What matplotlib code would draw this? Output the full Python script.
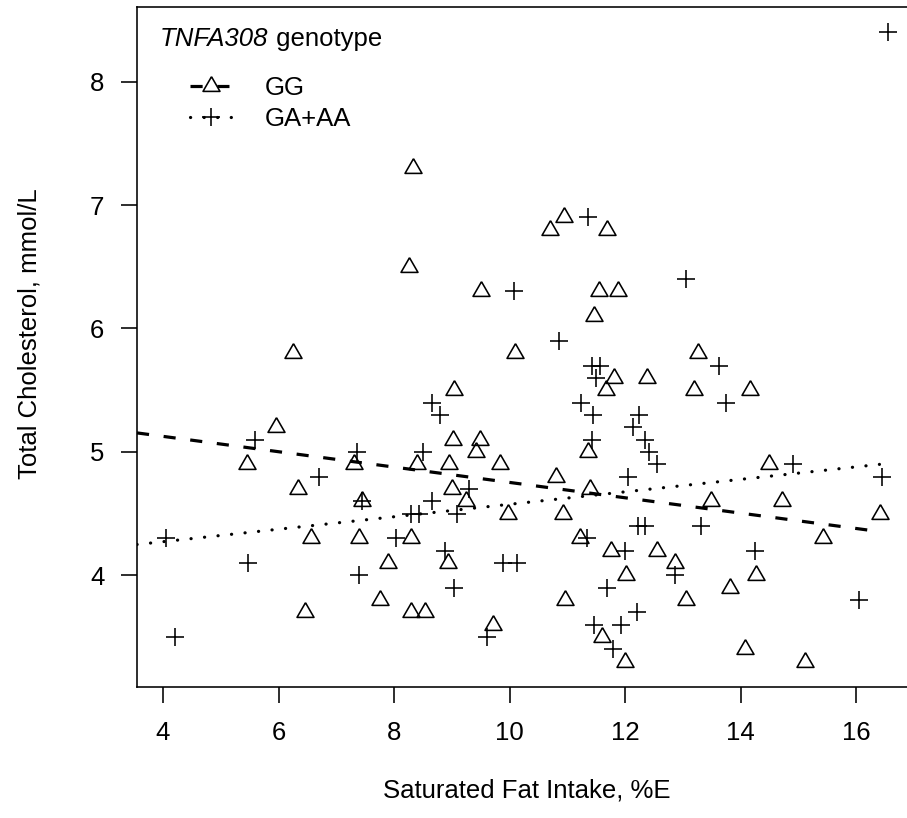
import matplotlib
matplotlib.use("Agg")
import matplotlib.pyplot as plt
from matplotlib.lines import Line2D
import numpy as np

plt.rcParams['font.family'] = ['Liberation Sans', 'DejaVu Sans']

# GG genotype (triangles)
gg_x = [5.45, 5.95, 6.25, 6.33, 6.45, 6.57, 7.30, 7.40, 7.45, 7.76, 7.90, 8.25, 8.30, 8.30,
        8.32, 8.40, 8.53, 8.93, 8.95, 9.01, 9.02, 9.03, 9.24, 9.41, 9.49, 9.50, 9.72, 9.83,
        9.97, 10.09, 10.69, 10.81, 10.93, 10.94, 10.95, 11.21, 11.36, 11.39, 11.46, 11.54,
        11.59, 11.66, 11.69, 11.76, 11.80, 11.87, 11.99, 12.01, 12.38, 12.55, 12.86, 13.05,
        13.19, 13.26, 13.48, 13.81, 14.07, 14.16, 14.26, 14.48, 14.72, 15.12, 15.43, 16.41]
gg_y = [4.9, 5.2, 5.8, 4.7, 3.7, 4.3, 4.9, 4.3, 4.6, 3.8, 4.1, 6.5, 4.3, 3.7,
        7.3, 4.9, 3.7, 4.1, 4.9, 4.7, 5.1, 5.5, 4.6, 5.0, 5.1, 6.3, 3.6, 4.9,
        4.5, 5.8, 6.8, 4.8, 4.5, 6.9, 3.8, 4.3, 5.0, 4.7, 6.1, 6.3,
        3.5, 5.5, 6.8, 4.2, 5.6, 6.3, 3.3, 4.0, 5.6, 4.2, 4.1, 3.8,
        5.5, 5.8, 4.6, 3.9, 3.4, 5.5, 4.0, 4.9, 4.6, 3.3, 4.3, 4.5]

# GA+AA genotype (plus)
ga_x = [4.05, 4.20, 5.47, 5.60, 6.70, 7.35, 7.39, 7.45, 8.03, 8.30, 8.43, 8.50, 8.65, 8.66,
        8.79, 8.88, 9.03, 9.08, 9.30, 9.61, 9.88, 10.07, 10.13, 10.86, 11.23, 11.33, 11.36,
        11.42, 11.42, 11.45, 11.46, 11.49, 11.56, 11.69, 11.79, 11.92, 12.00, 12.04, 12.14,
        12.21, 12.22, 12.23, 12.34, 12.34, 12.42, 12.55, 12.86, 13.05, 13.32, 13.62, 13.74,
        14.24, 14.90, 16.05, 16.44, 16.55]
ga_y = [4.3, 3.5, 4.1, 5.1, 4.8, 5.0, 4.0, 4.6, 4.3, 4.5, 4.5, 5.0, 4.6, 5.4,
        5.3, 4.2, 3.9, 4.5, 4.7, 3.5, 4.1, 6.3, 4.1, 5.9, 5.4, 4.3, 6.9,
        5.7, 5.1, 5.3, 3.6, 5.6, 5.7, 3.9, 3.4, 3.6, 4.2, 4.8, 5.2,
        3.7, 4.4, 5.3, 4.4, 5.1, 5.0, 4.9, 4.0, 6.4, 4.4, 5.7, 5.4,
        4.2, 4.9, 3.8, 4.8, 8.4]

# fitted regression lines (intercept, slope) and drawn x-extent
gg_fit = (5.375, -0.0622)
ga_fit = (4.071, 0.0505)
fit_x_end = 16.4

xticks = [4, 6, 8, 10, 12, 14, 16]
yticks = [4, 5, 6, 7, 8]

W, H = 907, 818
fig = plt.figure(figsize=(W / 100, H / 100), dpi=100)
ax = fig.add_axes([137 / W, 1 - 687 / H, (917 - 137) / W, (687 - 7) / H])

xall = np.array(gg_x + ga_x)
yall = np.array(gg_y + ga_y)
xr = xall.max() - xall.min()
yr = yall.max() - yall.min()
xlim = (xall.min() - 0.04 * xr, xall.max() + 0.04 * xr)
ylim = (yall.min() - 0.04 * yr, yall.max() + 0.04 * yr)

lw_px = 1.6
lw = lw_px * 0.72
fs = 18.5

tri = [(0, 1.555), (-1.347, -0.778), (1.347, -0.778), (0, 1.555)]
ax.plot(gg_x, gg_y, linestyle='none', marker=tri, markersize=14.1,
        markerfacecolor='none', markeredgecolor='black', markeredgewidth=lw)
ax.plot(ga_x, ga_y, linestyle='none', marker='+', markersize=12.8,
        markeredgecolor='black', markeredgewidth=lw)

lx = np.array([xlim[0], fit_x_end])
ax.plot(lx, gg_fit[0] + gg_fit[1] * lx, color='black', linewidth=2.3,
        dashes=(3.8, 4.6), dash_capstyle='butt')
ax.plot(lx, ga_fit[0] + ga_fit[1] * lx, color='black', linewidth=2.3,
        dashes=(0.05, 4.2), dash_capstyle='round')

ax.set_xlim(xlim)
ax.set_ylim(ylim)
ax.set_xticks(xticks)
ax.set_yticks(yticks)
ax.set_xticklabels([str(t) for t in xticks])
ax.set_yticklabels([str(t) for t in yticks])
ax.tick_params(axis='both', length=11.5, width=lw, labelsize=fs, direction='out')
ax.tick_params(axis='x', pad=13)
ax.tick_params(axis='y', pad=12)
for s in ax.spines.values():
    s.set_linewidth(lw)

ax.set_xlabel('Saturated Fat Intake, %E', fontsize=fs, labelpad=24)
ax.set_ylabel('Total Cholesterol, mmol/L', fontsize=fs, labelpad=35)
ax.yaxis.label.set_y(0.52)

t1 = ax.text(0.0295, 0.943, 'TNFA308', transform=ax.transAxes,
             fontsize=fs, style='italic', ha='left', va='baseline')
ax.annotate(' genotype', xy=(1, 0), xycoords=t1, fontsize=fs,
            ha='left', va='bottom')

h1 = Line2D([], [], color='black', linewidth=2.3, dashes=(3.8, 4.6),
            marker=tri, markersize=14.1, markerfacecolor='white',
            markeredgecolor='black', markeredgewidth=lw)
h2 = Line2D([], [], color='black', linewidth=2.3, dashes=(0.05, 4.2),
            dash_capstyle='round', marker='+', markersize=12.8,
            markeredgecolor='black', markeredgewidth=lw)
ax.legend([h1, h2], ['GG', 'GA+AA'], loc='upper left',
          bbox_to_anchor=(0.068, 0.898), frameon=False, fontsize=fs,
          handlelength=1.63, handletextpad=1.28, labelspacing=0.25,
          borderpad=0, borderaxespad=0, numpoints=1)

fig.savefig('out.png', dpi=100)
